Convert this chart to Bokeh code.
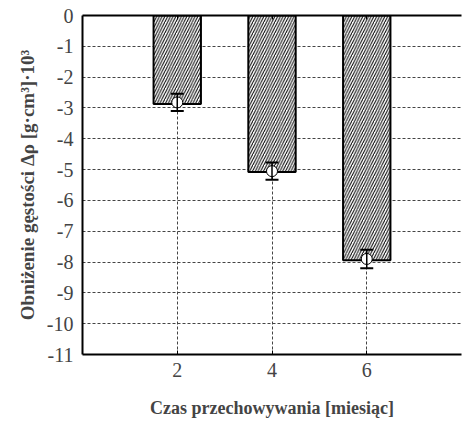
from bokeh.plotting import figure
from bokeh.models import (LinearAxis, FixedTicker, ColumnDataSource, Whisker, TeeHead, Range1d)
from bokeh.embed import file_html
from bokeh.resources import INLINE

months = [2, 4, 6]
bar_values = [-2.87, -5.08, -7.94]
point_values = [-2.82, -5.05, -7.90]
err = [0.28, 0.28, 0.30]
y_ticks = [0, -1, -2, -3, -4, -5, -6, -7, -8, -9, -10, -11]
y_tick_labels = ["0", "-1", "-2", "-3", "-4", "-5", "-6", "-7", "-8", "-9", "-10", "-11"]
x_ticks = [2, 4, 6]

src = ColumnDataSource(dict(
    x=months, top=bar_values, y=point_values,
    upper=[v + e for v, e in zip(point_values, err)],
    lower=[v - e for v, e in zip(point_values, err)],
))

FONT = "Liberation Serif"

p = figure(width=463, height=424, output_backend="svg", toolbar_location=None,
           x_range=Range1d(0, 8), y_range=Range1d(-11, 0),
           min_border_left=82, min_border_right=2, min_border_top=15, min_border_bottom=70)
p.outline_line_color = None
p.background_fill_color = "white"

# grids
p.xgrid.ticker = FixedTicker(ticks=x_ticks)
p.ygrid.ticker = FixedTicker(ticks=y_ticks)
for g in (p.xgrid, p.ygrid):
    g.grid_line_color = "#444444"
    g.grid_line_dash = "3 2"
    g.grid_line_width = 1

# bars
p.vbar(x="x", top="top", bottom=0, width=1.0, source=src,
       fill_color="white", line_color="black", line_width=2,
       hatch_pattern="/", hatch_color="black", hatch_scale=5.5, hatch_weight=1)

# error bars
w = Whisker(base="x", upper="upper", lower="lower", source=src, level="overlay",
            line_color="black", line_width=1.5,
            upper_head=TeeHead(size=13, line_color="black", line_width=2),
            lower_head=TeeHead(size=13, line_color="black", line_width=2))
p.add_layout(w)
pts = p.scatter(x="x", y="y", source=src, size=11, fill_color="white",
                line_color="black", line_width=1)
pts.level = "overlay"

# axes
xa = p.xaxis[0]
xa.ticker = FixedTicker(ticks=x_ticks)
xa.axis_line_width = 2
xa.major_tick_in = 4
xa.major_tick_out = 0
xa.minor_tick_line_color = None
xa.major_label_text_font = FONT
xa.major_label_text_font_size = "20px"
xa.major_label_standoff = 8
xa.axis_label = "Czas przechowywania [miesiąc]"
xa.axis_label_text_font = FONT
xa.axis_label_text_font_style = "bold"
xa.axis_label_text_font_size = "18px"
xa.axis_label_standoff = 18

ya = p.yaxis[0]
ya.ticker = FixedTicker(ticks=y_ticks)
ya.major_label_overrides = dict(zip(y_ticks, y_tick_labels))
ya.axis_line_width = 2
ya.major_tick_in = 0
ya.major_tick_out = 0
ya.minor_tick_line_color = None
ya.major_label_text_font = FONT
ya.major_label_text_font_size = "20px"
ya.major_label_standoff = 9
ya.axis_label = "Obniżenie gęstości Δρ [g·cm³]·10³"
ya.axis_label_text_font = FONT
ya.axis_label_text_font_style = "bold"
ya.axis_label_text_font_size = "19px"
ya.axis_label_standoff = 6

top = LinearAxis(ticker=FixedTicker(ticks=x_ticks), axis_line_width=2,
                 major_tick_in=4, major_tick_out=0, minor_tick_line_color=None,
                 major_label_overrides={2: "", 4: "", 6: ""}, major_label_standoff=0)
p.add_layout(top, "above")

open("out.html", "w").write(file_html(p, INLINE))
